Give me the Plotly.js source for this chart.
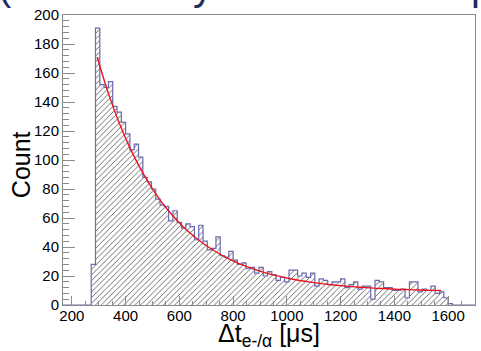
<!DOCTYPE html>
<html>
<head>
<meta charset="utf-8">
<script src="https://cdn.plot.ly/plotly-3.0.1.min.js"></script>
<style>html,body{margin:0;padding:0;background:#fff;}#chart{width:481px;height:351px;}</style>
</head>
<body>
<div id="chart"></div>
<script>
// Histogram: bins of 16 us starting at 272 us
const binLow = 272;
const binWidth = 16;
const counts = [
  28, 191, 152, 150, 154, 137, 133, 126, 118, 107,
  111, 102, 88, 85, 80, 73, 69, 68, 58, 65,
  57, 53, 56, 54, 45, 55, 44, 38, 39, 47,
  34, 33, 37, 31, 28, 29, 25, 26, 22, 26,
  20, 23, 21, 17, 19, 16, 24, 24, 20, 22,
  19, 22, 13, 18, 17, 14, 16, 16, 18, 12,
  14, 16, 11, 13, 13, 4, 17, 16, 12, 12,
  10, 10, 11, 5, 16, 16, 9, 11, 10, 13,
  8, 9, 5, 1
];
// Fit curve samples
const fitX = [294, 334, 374, 414, 454, 494, 534, 574, 614, 654, 694, 734, 774, 814, 854, 894, 934,
  974, 1014, 1054, 1094, 1134, 1174, 1214, 1254, 1294, 1334, 1374, 1414, 1454, 1494, 1534, 1574];
const fitY = [171, 147.0, 126.6, 109.2, 94.4, 81.8, 71.0, 61.9, 54.0, 47.4, 41.7, 36.9, 32.7, 29.2, 26.3, 23.7, 21.5,
  19.7, 18.1, 16.7, 15.6, 14.6, 13.8, 13.1, 12.5, 12.0, 11.5, 11.2, 10.8, 10.6, 10.3, 10.1, 10.0];

const xRange = [167, 1700];
const yRange = [0, 200];
const xTitle = '\u0394t<sub>e-/\u03b1</sub> [\u03bcs]';
const yTitle = 'Count';

const centers = counts.map((c, i) => binLow + binWidth * (i + 0.5));
// step outline (ROOT style contour)
const stepX = [xRange[0], binLow];
const stepY = [0, 0];
counts.forEach((c, i) => {
  stepX.push(binLow + binWidth * i, binLow + binWidth * (i + 1));
  stepY.push(c, c);
});
stepX.push(binLow + binWidth * counts.length, xRange[1]);
stepY.push(0, 0);

const font = 'Liberation Sans, Arial, Helvetica, sans-serif';
const grey = '#8a8a8a';

const traces = [
  {
    type: 'bar', x: centers, y: counts, width: binWidth,
    marker: {color: 'white', line: {width: 0},
      pattern: {shape: '/', fgcolor: '#5a5a5a', bgcolor: 'white', size: 4, solidity: 0.22}},
    hoverinfo: 'skip', showlegend: false
  },
  {
    type: 'scatter', mode: 'lines', x: stepX, y: stepY,
    line: {color: '#6a6ab0', width: 1.2, shape: 'linear'}, showlegend: false
  },
  {
    type: 'scatter', mode: 'lines', x: fitX, y: fitY,
    line: {color: '#e8141c', width: 1.4, shape: 'spline'}, showlegend: false
  }
];

const layout = {
  width: 481, height: 351,
  margin: {l: 63, r: 6, t: 15, b: 46, pad: 0},
  paper_bgcolor: 'white', plot_bgcolor: 'white',
  showlegend: false,
  bargap: 0,
  font: {family: font, color: '#000'},
  xaxis: {
    range: xRange, tick0: 0, dtick: 200,
    ticks: 'inside', ticklen: 9, tickcolor: grey, tickwidth: 1,
    showline: true, linecolor: grey, linewidth: 1, mirror: true,
    showgrid: false, zeroline: false,
    ticklabelstandoff: -3,
    minor: {dtick: 50, ticks: 'inside', ticklen: 4.5, tickcolor: grey, showgrid: false},
    tickfont: {family: font, size: 15, color: '#000'},
    title: {text: xTitle, font: {family: font, size: 25, color: '#000'}, standoff: 0}
  },
  yaxis: {
    range: yRange, tick0: 0, dtick: 20,
    ticks: 'inside', ticklen: 12, tickcolor: grey, tickwidth: 1,
    showline: true, linecolor: grey, linewidth: 1, mirror: true,
    showgrid: false, zeroline: false,
    minor: {dtick: 4, ticks: 'inside', ticklen: 6, tickcolor: grey, showgrid: false},
    tickfont: {family: font, size: 15, color: '#000'}
  },
  annotations: [
    {text: yTitle, textangle: -90, xref: 'paper', yref: 'paper', x: -0.1, y: 0.485,
      xanchor: 'center', yanchor: 'middle', showarrow: false,
      font: {family: font, size: 25, color: '#000'}},
    {text: '(', xref: 'paper', yref: 'paper', x: -0.14, y: 1.017, xanchor: 'center', yanchor: 'bottom',
      showarrow: false, font: {family: font, size: 40, color: '#1f2d5c'}},
    {text: 'y', xref: 'paper', yref: 'paper', x: 0.34, y: 1.017, xanchor: 'center', yanchor: 'bottom',
      showarrow: false, font: {family: font, size: 40, color: '#1f2d5c'}},
    {text: 'p', xref: 'paper', yref: 'paper', x: 0.985, y: 1.017, xanchor: 'left', yanchor: 'bottom',
      showarrow: false, font: {family: font, size: 40, color: '#1f2d5c'}}
  ]
};

Plotly.newPlot('chart', traces, layout, {staticPlot: true, displayModeBar: false});
</script>
</body>
</html>
